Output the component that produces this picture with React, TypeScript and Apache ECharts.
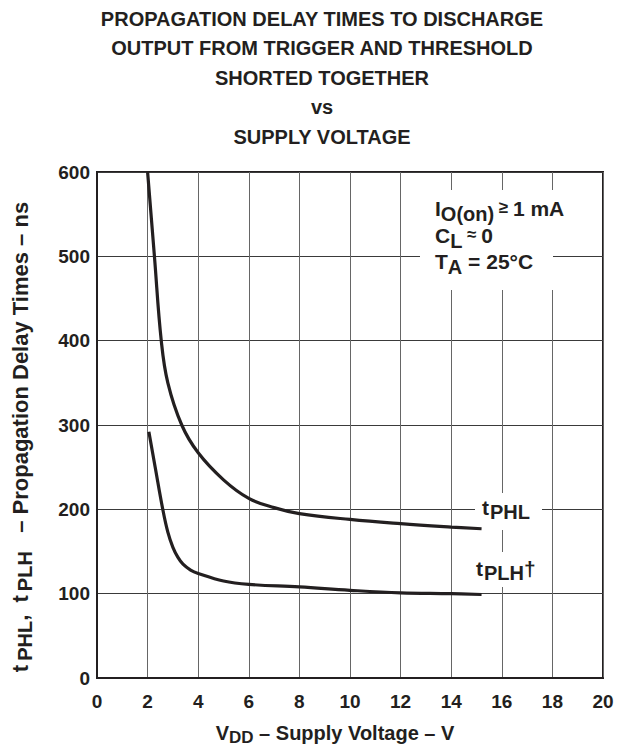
import React, { useEffect, useRef } from "react";
import * as echarts from "echarts";

// Supply voltage (V) and delay (ns)
const vddPHL = [2, 2.27, 2.54, 2.8, 3.35, 4, 5, 6, 7, 8, 10, 12, 14, 15.2];
const tPHL = [600, 500, 400, 350, 300, 267, 235, 213, 202, 195, 188, 183, 179, 177];
const vddPLH = [2.05, 2.3, 2.6, 2.8, 3.0, 3.2, 3.4, 3.7, 4, 5, 6, 8, 10, 12, 14, 15.2];
const tPLH = [292, 250, 200, 173, 155, 143, 135, 128, 124, 115, 111, 108, 104, 101, 100, 99];

const titleLines = [
  "PROPAGATION DELAY TIMES TO DISCHARGE",
  "OUTPUT FROM TRIGGER AND THRESHOLD",
  "SHORTED TOGETHER",
  "vs",
  "SUPPLY VOLTAGE",
];

const X_MIN = 0, X_MAX = 20, X_STEP = 2;
const Y_MIN = 0, Y_MAX = 600, Y_STEP = 100;

const INK = "#231f20";
const FONT = "Liberation Sans, Arial, sans-serif";

function richSet(main: number, sub: number, subDrop: number, subGap: number, sym = 17) {
  return {
    m: { fontSize: main, fontWeight: "bold", fontFamily: FONT, color: INK, lineHeight: main + 2, verticalAlign: "top" },
    s: { fontSize: sub, fontWeight: "bold", fontFamily: FONT, color: INK, lineHeight: sub + 2, padding: [subDrop, 0, 0, subGap], verticalAlign: "top" },
    g: { fontSize: sym, fontWeight: "bold", fontFamily: FONT, color: INK, lineHeight: sym + 2, padding: [1, 0, 0, 0], verticalAlign: "top" },
  };
}

export default function App() {
  const ref = useRef<HTMLDivElement>(null);
  useEffect(() => {
    if (!ref.current) return;
    const chart = echarts.init(ref.current, undefined, { renderer: "svg" });
    const annRich = richSet(21, 20, 6, 0);
    const curveRich = richSet(21, 20, 5, 1);
    const axisRich = richSet(20, 17, 6, 0);
    const yNameRich = richSet(22, 20, 6, 4);
    const titleY = [19, 48, 78, 107, 137];
    const graphic: any[] = titleLines.map((t, i) => ({
      type: "text",
      x: 322,
      y: titleY[i],
      z: 10,
      style: { text: t, font: `bold 20px ${FONT}`, fill: INK, textAlign: "center", textVerticalAlign: "middle" },
    }));
    graphic.push(
      { type: "rect", shape: { x: 420, y: 190, width: 133, height: 100 }, style: { fill: "#fff" }, z: 1 },
      { type: "rect", shape: { x: 475, y: 493, width: 67, height: 37 }, style: { fill: "#fff" }, z: 1 },
      { type: "rect", shape: { x: 472, y: 552, width: 70, height: 35 }, style: { fill: "#fff" }, z: 1 },
      {
        type: "text", x: 435, y: 198, z: 10,
        style: { text: "{m|I}{s|O(on)}{g| ≥ }{m|1 mA}", rich: annRich, fill: INK },
      },
      {
        type: "text", x: 435, y: 225, z: 10,
        style: { text: "{m|C}{s|L}{g| ≈ }{m|0}", rich: annRich, fill: INK },
      },
      {
        type: "text", x: 435, y: 251, z: 10,
        style: { text: "{m|T}{s|A}{m| = 25°C}", rich: annRich, fill: INK },
      },
      {
        type: "text", x: 482, y: 497, z: 10,
        style: { text: "{m|t}{s|PHL}", rich: curveRich, fill: INK },
      },
      {
        type: "text", x: 476, y: 558, z: 10,
        style: { text: "{m|t}{s|PLH}{m|†}", rich: curveRich, fill: INK },
      }
    );

    const axisLabel = { fontSize: 19, fontWeight: "bold", fontFamily: FONT, color: INK };
    chart.setOption({
      animation: false,
      backgroundColor: "#fff",
      grid: {
        left: 97, right: 25, top: 172, bottom: 70, show: true,
        borderColor: INK, borderWidth: 2, backgroundColor: "transparent",
        outerBoundsMode: "none", containLabel: false,
      },
      xAxis: {
        type: "value", min: X_MIN, max: X_MAX, interval: X_STEP,
        axisLine: { show: true, lineStyle: { color: INK, width: 2 } },
        axisTick: { show: false },
        axisLabel: { ...axisLabel, margin: 14 },
        splitLine: { show: true, lineStyle: { color: "#666", width: 1 } },
        name: "{m|V}{s|DD}{m| – Supply Voltage – V}",
        nameLocation: "middle",
        nameGap: 45,
        nameTextStyle: { rich: axisRich, padding: [0, 30, 0, 0] },
      },
      yAxis: {
        type: "value", min: Y_MIN, max: Y_MAX, interval: Y_STEP,
        axisLine: { show: true, lineStyle: { color: INK, width: 2 } },
        axisTick: { show: false },
        axisLabel: { ...axisLabel, margin: 7 },
        splitLine: { show: true, lineStyle: { color: "#3a3a3a", width: 1 } },
        name: "{m|t}{s|PHL}{m|,  t}{s|PLH}{m|   – Propagation Delay Times – ns}",
        nameLocation: "middle",
        nameRotate: 90,
        nameGap: 64,
        nameTextStyle: { rich: yNameRich, padding: [0, 24, 0, 0] },
      },
      graphic,
      series: [
        {
          type: "line", name: "tPHL", data: vddPHL.map((v, i) => [v, tPHL[i]]),
          showSymbol: false, smooth: 0.4, z: 5,
          lineStyle: { color: INK, width: 3.2 },
        },
        {
          type: "line", name: "tPLH", data: vddPLH.map((v, i) => [v, tPLH[i]]),
          showSymbol: false, smooth: 0.4, z: 5,
          lineStyle: { color: INK, width: 3.2 },
        },
      ],
    });
    return () => chart.dispose();
  }, []);
  return <div ref={ref} style={{ position: "fixed", left: 0, top: 0, width: 628, height: 748, background: "#fff" }} />;
}
